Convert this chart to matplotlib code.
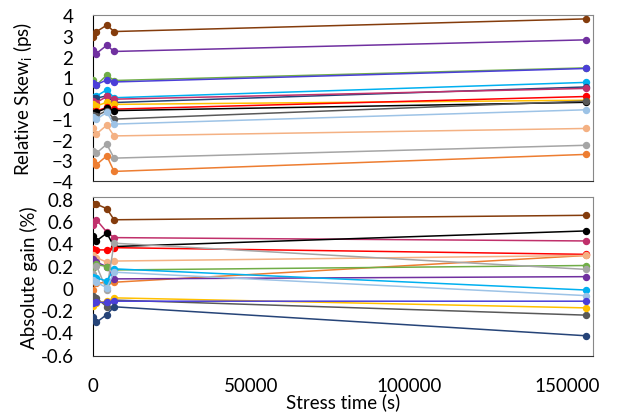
import matplotlib
matplotlib.use('Agg')
import matplotlib.pyplot as plt

plt.rcParams['font.family'] = ['Lato', 'DejaVu Sans']
plt.rcParams['mathtext.fontset'] = 'custom'
plt.rcParams['mathtext.rm'] = 'Lato'

# stress times (s)
t = [0, 1100, 4400, 6700, 156000]

# relative skew (ps), top panel
skew = {
    '#843C0C': [2.95, 3.20, 3.52, 3.21, 3.82],
    '#7030A0': [2.33, 2.15, 2.55, 2.25, 2.81],
    '#70AD47': [0.87, 0.63, 1.11, 0.85, 1.46],
    '#4B3FD8': [0.75, 0.65, 0.88, 0.78, 1.43],
    '#00B0F0': [0.06, 0.10, 0.40, 0.02, 0.76],
    '#264478': [0.03, 0.00, 0.11, -0.21, 0.54],
    '#C0306B': [-0.13, -0.21, 0.08, -0.05, 0.47],
    '#FFC000': [-0.30, -0.38, -0.20, -0.30, -0.10],
    '#FF0000': [-0.69, -0.62, -0.45, -0.53, 0.08],
    '#000000': [-0.72, -0.68, -0.48, -0.60, -0.20],
    '#595959': [-0.80, -0.85, -0.60, -1.01, -0.14],
    '#9DC3E6': [-0.93, -1.01, -0.69, -1.25, -0.56],
    '#F4B183': [-1.46, -1.73, -1.30, -1.82, -1.46],
    '#A5A5A5': [-2.57, -2.65, -2.22, -2.89, -2.27],
    '#ED7D31': [-3.05, -3.21, -2.78, -3.53, -2.71],
}

# absolute gain (%), bottom panel
gain = {
    '#843C0C': [0.75, 0.75, 0.71, 0.61, 0.65],
    '#C0306B': [0.56, 0.61, 0.50, 0.45, 0.42],
    '#000000': [0.46, 0.42, 0.49, 0.37, 0.51],
    '#ED7D31': [-0.02, 0.04, 0.05, 0.05, 0.29],
    '#FF0000': [0.35, 0.34, 0.34, 0.36, 0.30],
    '#F4B183': [0.29, 0.27, 0.23, 0.24, 0.29],
    '#7030A0': [0.26, 0.23, 0.19, 0.08, 0.10],
    '#70AD47': [0.18, 0.21, 0.19, 0.16, 0.20],
    '#A5A5A5': [0.12, 0.20, -0.02, 0.40, 0.165],
    '#00B0F0': [0.10, 0.09, 0.06, 0.17, -0.02],
    '#9DC3E6': [0.07, 0.05, 0.00, 0.14, -0.07],
    '#595959': [-0.07, -0.09, -0.17, -0.11, -0.245],
    '#FFC000': [-0.165, -0.135, -0.12, -0.09, -0.18],
    '#4B3FD8': [-0.14, -0.13, -0.13, -0.12, -0.12],
    '#264478': [-0.26, -0.31, -0.24, -0.17, -0.43],
}

fig = plt.figure(figsize=(6.36, 4.14), dpi=100)
ax1 = fig.add_axes([0.146, 0.560, 0.786, 0.401])
ax2 = fig.add_axes([0.146, 0.138, 0.786, 0.384])

for ax, data in [(ax1, skew), (ax2, gain)]:
    for c, v in data.items():
        ax.plot(t, v, color=c, lw=1.1, marker='o', ms=4.3, zorder=3)
    ax.set_xlim(0, 158000)
    ax.tick_params(length=0, labelsize=13.5)
    for s in ['top', 'right']:
        ax.spines[s].set_color('#888888')
    ax.spines['left'].set_color('black')
    ax.spines['bottom'].set_color('#333333')

ax1.set_ylim(-4, 4)
ax1.set_yticks(range(-4, 5))
ax1.set_xticks([0, 50000, 100000, 150000])
ax1.tick_params(axis='x', labelbottom=False)
ax1.tick_params(axis='y', pad=14)
ax1.set_ylabel('Relative Skew$_\\mathrm{i}$ (ps)', fontsize=13.5)
ax1.yaxis.set_label_coords(-0.116, 0.5)

ax2.set_ylim(-0.61, 0.815)
ax2.set_yticks([-0.6, -0.4, -0.2, 0, 0.2, 0.4, 0.6, 0.8])
ax2.set_yticklabels(['-0.6', '-0.4', '-0.2', '0', '0.2', '0.4', '0.6', '0.8'])
ax2.tick_params(axis='y', pad=14)
ax2.set_xticks([0, 50000, 100000, 150000])
ax2.set_xticklabels(['0', '50000', '100000', '150000'])
ax2.tick_params(axis='x', pad=15)
ax2.set_ylabel('Absolute gain (%)', fontsize=13.5)
ax2.yaxis.set_label_coords(-0.11, 0.5)
ax2.set_xlabel('Stress time (s)', fontsize=13.5, labelpad=-1)

fig.savefig('out.png', dpi=100)
